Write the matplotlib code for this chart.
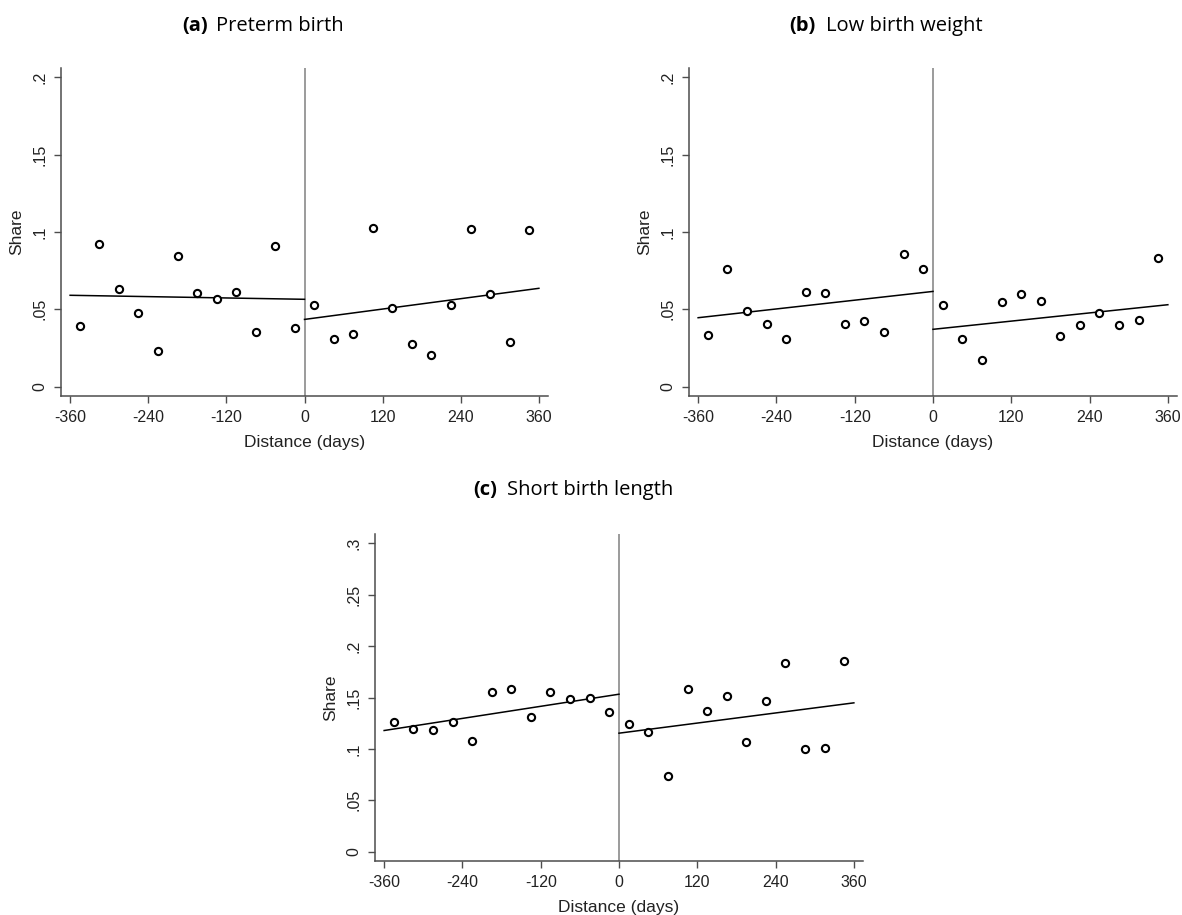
import matplotlib
matplotlib.use("Agg")
import matplotlib.pyplot as plt
import numpy as np

# ---------------- data ----------------
bins = [-345, -315, -285, -255, -225, -195, -165, -135, -105, -75, -45, -15,
        15, 45, 75, 105, 135, 165, 195, 225, 255, 285, 315, 345]

preterm = [0.0394, 0.0922, 0.0634, 0.0474, 0.0228, 0.0847, 0.0603, 0.0569,
           0.0610, 0.0351, 0.0907, 0.0377,
           0.0528, 0.0306, 0.0338, 0.1026, 0.0511, 0.0276, 0.0203, 0.0530,
           0.1017, 0.0597, 0.0287, 0.1015]

low_weight = [0.0332, 0.0761, 0.0491, 0.0407, 0.0308, 0.0614, 0.0606, 0.0403,
              0.0425, 0.0353, 0.0856, 0.0761,
              0.0530, 0.0306, 0.0170, 0.0550, 0.0599, 0.0552, 0.0328, 0.0401,
              0.0476, 0.0401, 0.0433, 0.0832]

short_length = [0.1260, 0.1189, 0.1186, 0.1260, 0.1076, 0.1558, 0.1584, 0.1312,
                0.1558, 0.1481, 0.1497, 0.1357,
                0.1241, 0.1166, 0.0739, 0.1578, 0.1370, 0.1519, 0.1066, 0.1468,
                0.1840, 0.1001, 0.1008, 0.1856]

fit_left_x = [-360, 0]
fit_right_x = [0, 360]
fit_a_left = [0.0591, 0.0565]
fit_a_right = [0.0435, 0.0636]
fit_b_left = [0.0446, 0.0616]
fit_b_right = [0.0371, 0.0530]
fit_c_left = [0.1179, 0.1532]
fit_c_right = [0.1153, 0.1448]

xticks = [-360, -240, -120, 0, 120, 240, 360]
xtick_labels = ["-360", "-240", "-120", "0", "120", "240", "360"]
yticks_ab = [0, 0.05, 0.1, 0.15, 0.2]
ytick_labels_ab = ["0", ".05", ".1", ".15", ".2"]
yticks_c = [0, 0.05, 0.1, 0.15, 0.2, 0.25, 0.3]
ytick_labels_c = ["0", ".05", ".1", ".15", ".2", ".25", ".3"]

titles_bold = ["(a)", "(b)", "(c)"]
titles_text = ["Preterm birth", "Low birth weight", "Short birth length"]

# ---------------- figure ----------------
W, H = 1182, 915
fig = plt.figure(figsize=(W / 100, H / 100), dpi=100)
plt.rcParams["font.family"] = ["Liberation Sans", "DejaVu Sans"]

def px_axes(left, right, top, bottom):
    return fig.add_axes([left / W, 1 - bottom / H, (right - left) / W, (bottom - top) / H])

spine_col = "#4d4d4d"

def style(ax, y, fl, fr, yticks, ylabels, ymax):
    ax.plot(bins, y, linestyle="none", marker="o", markersize=5.2,
            markerfacecolor="white", markeredgecolor="black", markeredgewidth=1.5,
            zorder=3)
    ax.plot(fit_left_x, fl, color="black", lw=1.1, zorder=2)
    ax.plot(fit_right_x, fr, color="black", lw=1.1, zorder=2)
    ax.axvline(0, color="#8a8a8a", lw=1.2, zorder=1)
    ax.set_xlim(-374, 374)
    ax.set_ylim(-0.03 * ymax, 1.03 * ymax)
    ax.set_xticks(xticks)
    ax.set_xticklabels(xtick_labels)
    ax.set_yticks(yticks)
    ax.set_yticklabels(ylabels, rotation=90, va="center")
    for s in ["top", "right"]:
        ax.spines[s].set_visible(False)
    for s in ["left", "bottom"]:
        ax.spines[s].set_color(spine_col)
        ax.spines[s].set_linewidth(1.1)
    ax.tick_params(axis="both", direction="out", length=5, width=1.0,
                   color=spine_col, labelsize=11.5, labelcolor="#222222", pad=5)
    ax.set_xlabel("Distance (days)", fontsize=12.5, color="#222222", labelpad=7)
    ax.set_ylabel("Share", fontsize=12.5, color="#222222", labelpad=6)

ax_a = px_axes(61, 548, 68, 396)
style(ax_a, preterm, fit_a_left, fit_a_right, yticks_ab, ytick_labels_ab, 0.2)
ax_b = px_axes(689, 1177, 68, 396)
style(ax_b, low_weight, fit_b_left, fit_b_right, yticks_ab, ytick_labels_ab, 0.2)
ax_c = px_axes(375, 863, 534, 861)
style(ax_c, short_length, fit_c_left, fit_c_right, yticks_c, ytick_labels_c, 0.3)

# titles
title_pos = [(182, 216, 26), (789, 826, 26), (473, 507, 490)]
for (xb, xt, yy), tb, tt in zip(title_pos, titles_bold, titles_text):
    fig.text(xb / W, 1 - yy / H, tb, fontsize=14.5, fontweight="bold",
             family=["Open Sans", "DejaVu Sans"], ha="left", va="center")
    fig.text(xt / W, 1 - yy / H, tt, fontsize=14.5,
             family=["Open Sans", "DejaVu Sans"], ha="left", va="center")

fig.savefig("out.png", dpi=100, facecolor="white")
